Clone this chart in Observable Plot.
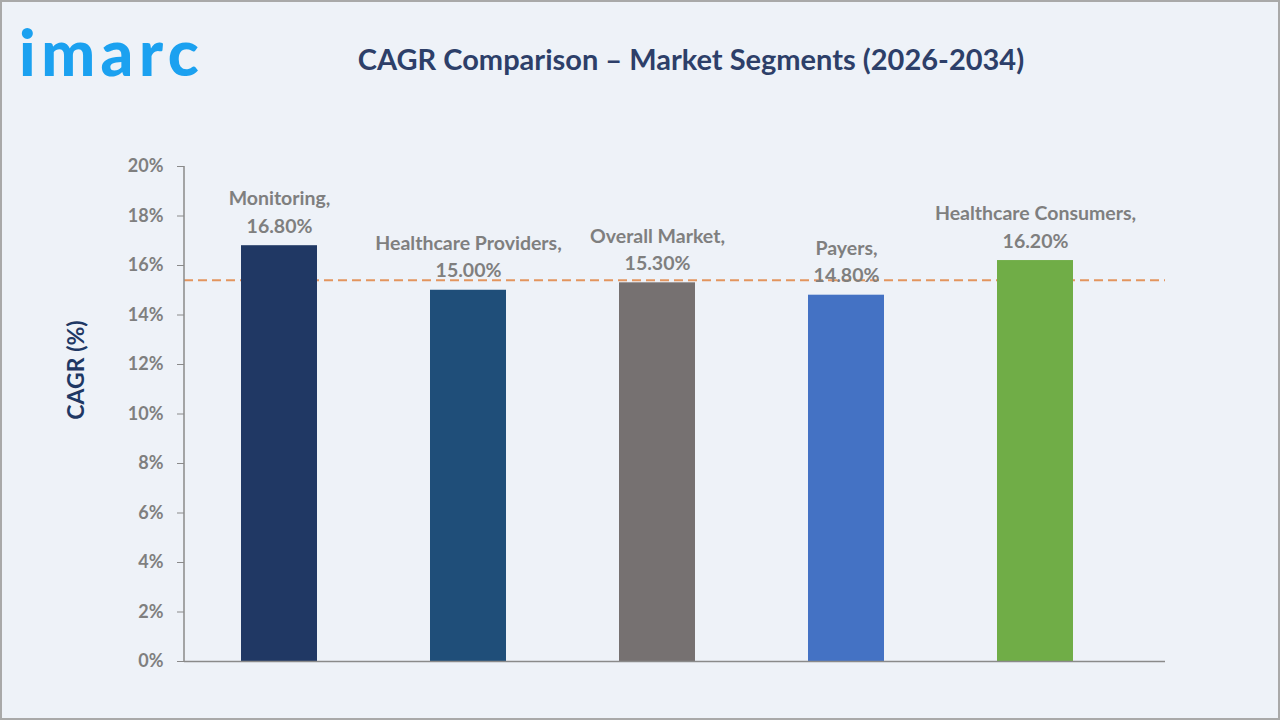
<!DOCTYPE html>
<html>
<head>
<meta charset="utf-8">
<script src="https://cdn.jsdelivr.net/npm/d3@7"></script>
<script src="https://cdn.jsdelivr.net/npm/@observablehq/plot@0.6"></script>
<style>
  html, body { margin: 0; padding: 0; background: #eef2f8; }
  #page {
    position: relative; width: 1280px; height: 720px; overflow: hidden;
    background: #eef2f8; font-family: Lato, "Open Sans", sans-serif;
  }
  #border {
    position: absolute; left: 0; top: 0; width: 1280px; height: 720px;
    box-sizing: border-box; border: 2px solid #a9a9a9; pointer-events: none;
  }
  #logo {
    position: absolute; left: 19px; top: 12px;
    font-family: Lato, sans-serif; font-weight: 900; font-size: 64px;
    letter-spacing: 5.5px; color: #1ba1f0; line-height: 80px;
  }
  #title {
    position: absolute; left: 0; top: 41px; width: 1382px; text-align: center;
    font-family: Lato, sans-serif; font-weight: 700; font-size: 29px;
    color: #2d3f69;
  }
  #chart { position: absolute; left: 0; top: 0; }
</style>
</head>
<body>
<div id="page">
  <div id="logo">imarc</div>
  <div id="title">CAGR Comparison – Market Segments (2026-2034)</div>
  <div id="chart"></div>
  <div id="border"></div>
</div>
<script>
// Segment CAGR values, 2026-2034
const segments = ["Monitoring", "Healthcare Providers", "Overall Market", "Payers", "Healthcare Consumers"];
const cagr = [16.8, 15.0, 15.3, 14.8, 16.2];
const colors = ["#203864", "#1f4e79", "#767171", "#4472c4", "#70ad47"];
const referenceLine = 15.4;
const yTicks = [0, 2, 4, 6, 8, 10, 12, 14, 16, 18, 20];

const rows = segments.map((s, i) => ({segment: s, value: cagr[i], color: colors[i]}));

const labelGray = "#7f7f7f";
const axisGray = "#8a8a8a";

const chart = Plot.plot({
  width: 1280,
  height: 720,
  marginLeft: 184,
  marginRight: 115,
  marginTop: 166,
  marginBottom: 59,
  style: {background: "transparent", fontFamily: "Lato, sans-serif"},
  x: {domain: segments, range: [184.3, 1129.7], paddingInner: 0.598, paddingOuter: 0.3, axis: null},
  y: {domain: [0, 20]},
  marks: [
    Plot.ruleY([referenceLine], {stroke: "#e3955e", strokeWidth: 2, strokeDasharray: "9,5"}),
    Plot.barY(rows, {x: "segment", y: "value", fill: "color"}),
    Plot.axisY({
      ticks: yTicks, tickFormat: d => d + "%", tickSize: 7, tickPadding: 14,
      fontSize: 18, fontWeight: "bold", color: labelGray, stroke: axisGray, label: null
    }),
    // vertical axis line along the left edge of the plot area
    Plot.ruleY([0], {
      render: (index, scales, values, dims) => {
        const g = d3.create("svg:g");
        g.append("line")
          .attr("x1", dims.marginLeft).attr("x2", dims.marginLeft)
          .attr("y1", scales.y(20)).attr("y2", scales.y(0))
          .attr("stroke", axisGray).attr("stroke-width", 1.5);
        return g.node();
      }
    }),
    Plot.ruleY([0], {stroke: axisGray, strokeWidth: 1.5}),
    Plot.text(rows, {
      x: "segment", y: "value",
      text: d => `${d.segment},\n${d.value.toFixed(2)}%`,
      lineAnchor: "bottom", lineHeight: 1.4, dy: -13,
      fontSize: 19.5, fontWeight: "bold", fill: labelGray
    }),
    Plot.text(["CAGR (%)"], {
      frameAnchor: "left", textAnchor: "middle", rotate: -90, dx: -108, dy: -44,
      fontSize: 23, fontWeight: "bold", fill: "#1f3864"
    })
  ]
});
document.getElementById("chart").appendChild(chart);
</script>
</body>
</html>
